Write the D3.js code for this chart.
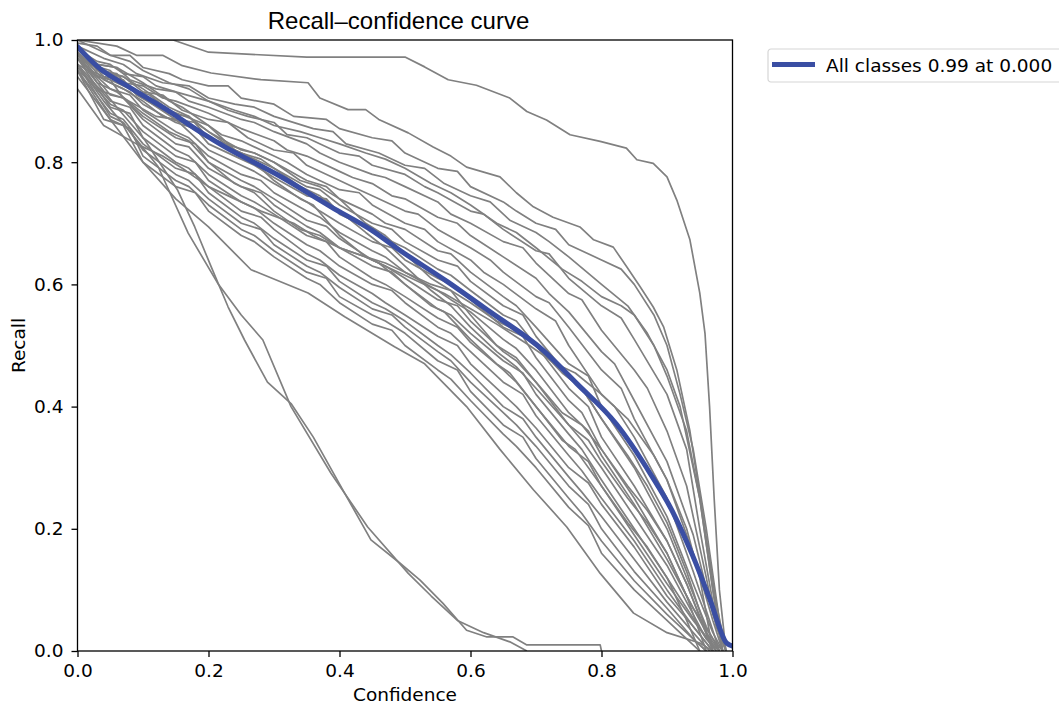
<!DOCTYPE html>
<html>
<head>
<meta charset="utf-8">
<script src="https://cdn.jsdelivr.net/npm/d3@7"></script>
<style>
  html, body { margin: 0; padding: 0; background: #fff; }
  svg { display: block; }
</style>
</head>
<body>
<div id="chart"></div>
<script>
// recall-confidence curve

const xTicks = [0.0, 0.2, 0.4, 0.6, 0.8, 1.0];
const yTicks = [0.0, 0.2, 0.4, 0.6, 0.8, 1.0];
const legendLabel = "All classes 0.99 at 0.000";

// mean curve over all classes
const meanCurve = [
    [0, 0.989], [0.031, 0.956], [0.082, 0.921], [0.133, 0.888], [0.194, 0.845],
    [0.225, 0.825], [0.306, 0.779], [0.387, 0.727], [0.45, 0.688], [0.492, 0.656],
    [0.564, 0.605], [0.63, 0.555], [0.711, 0.492], [0.762, 0.438],
    [0.823, 0.371], [0.874, 0.291], [0.91, 0.225], [0.94, 0.154], [0.966, 0.083],
    [0.991, 0.013], [1.0, 0.008]
];

// per-class curves
const classCurves = [
    [[0,1.0],[0.146,1.0],[0.2,0.98],[0.35,0.972],[0.5,0.972],[0.53,0.956],[0.566,0.935],[0.609,0.926],[0.66,0.905],[0.686,0.883],[0.716,0.869],[0.752,0.845],[0.798,0.834],[0.838,0.823],[0.854,0.804],[0.879,0.798],[0.9,0.776],[0.915,0.738],[0.935,0.673],[0.95,0.586],[0.958,0.52],[0.965,0.40],[0.972,0.25],[0.98,0.10],[0.99,0]],
    [[0,1.0],[0.06,0.99],[0.09,0.975],[0.13,0.975],[0.16,0.958],[0.204,0.946],[0.28,0.935],[0.352,0.93],[0.37,0.905],[0.413,0.886],[0.44,0.886],[0.46,0.87],[0.505,0.848],[0.543,0.825],[0.57,0.81],[0.594,0.792],[0.645,0.776],[0.67,0.75],[0.696,0.727],[0.726,0.71],[0.767,0.694],[0.788,0.673],[0.818,0.661],[0.839,0.628],[0.859,0.596],[0.879,0.563],[0.895,0.53],[0.915,0.46],[0.935,0.36],[0.955,0.22],[0.975,0.08],[0.99,0]],
    [[0,0.995],[0.03,0.99],[0.05,0.975],[0.08,0.975],[0.1,0.955],[0.14,0.945],[0.16,0.935],[0.2,0.925],[0.23,0.925],[0.25,0.905],[0.3,0.895],[0.33,0.875],[0.38,0.87],[0.4,0.855],[0.45,0.84],[0.48,0.835],[0.5,0.815],[0.55,0.79],[0.58,0.785],[0.6,0.76],[0.65,0.735],[0.67,0.72],[0.7,0.70],[0.73,0.69],[0.75,0.665],[0.8,0.64],[0.83,0.625],[0.85,0.60],[0.88,0.55],[0.9,0.50],[0.92,0.42],[0.94,0.33],[0.96,0.2],[0.98,0.05],[0.99,0]],
    [[0,0.99],[0.04,0.97],[0.07,0.96],[0.09,0.945],[0.13,0.93],[0.17,0.925],[0.2,0.905],[0.24,0.895],[0.27,0.89],[0.3,0.875],[0.36,0.855],[0.39,0.85],[0.41,0.83],[0.46,0.815],[0.5,0.795],[0.53,0.79],[0.56,0.765],[0.6,0.745],[0.63,0.735],[0.66,0.705],[0.7,0.685],[0.72,0.67],[0.75,0.645],[0.8,0.60],[0.84,0.565],[0.87,0.52],[0.9,0.46],[0.92,0.40],[0.95,0.25],[0.97,0.1],[0.985,0]],
    [[0,0.985],[0.03,0.965],[0.05,0.96],[0.07,0.945],[0.1,0.94],[0.12,0.925],[0.15,0.915],[0.2,0.90],[0.23,0.885],[0.26,0.875],[0.3,0.865],[0.32,0.845],[0.35,0.84],[0.4,0.815],[0.43,0.81],[0.45,0.795],[0.5,0.78],[0.53,0.76],[0.55,0.75],[0.6,0.72],[0.62,0.715],[0.65,0.69],[0.7,0.655],[0.72,0.65],[0.75,0.61],[0.8,0.565],[0.83,0.545],[0.85,0.51],[0.9,0.42],[0.93,0.33],[0.95,0.2],[0.97,0.08],[0.985,0]],
    [[0,0.99],[0.03,0.96],[0.06,0.955],[0.08,0.935],[0.12,0.92],[0.15,0.915],[0.17,0.9],[0.2,0.89],[0.25,0.87],[0.27,0.865],[0.3,0.85],[0.35,0.83],[0.37,0.815],[0.4,0.80],[0.45,0.78],[0.47,0.775],[0.5,0.76],[0.55,0.735],[0.57,0.715],[0.6,0.70],[0.65,0.67],[0.68,0.66],[0.7,0.635],[0.75,0.585],[0.77,0.575],[0.8,0.525],[0.85,0.46],[0.87,0.43],[0.9,0.36],[0.93,0.27],[0.96,0.12],[0.975,0.04],[0.99,0]],
    [[0,0.98],[0.02,0.96],[0.05,0.95],[0.07,0.93],[0.1,0.925],[0.13,0.905],[0.15,0.90],[0.2,0.88],[0.22,0.87],[0.25,0.855],[0.3,0.835],[0.32,0.82],[0.35,0.81],[0.4,0.785],[0.42,0.775],[0.45,0.765],[0.48,0.745],[0.5,0.74],[0.55,0.71],[0.58,0.70],[0.6,0.68],[0.65,0.645],[0.7,0.61],[0.72,0.585],[0.75,0.555],[0.8,0.49],[0.82,0.47],[0.85,0.41],[0.9,0.31],[0.94,0.19],[0.97,0.06],[0.99,0]],
    [[0,0.975],[0.04,0.945],[0.07,0.94],[0.1,0.915],[0.13,0.91],[0.16,0.885],[0.2,0.87],[0.23,0.865],[0.26,0.84],[0.3,0.82],[0.33,0.815],[0.35,0.795],[0.4,0.77],[0.43,0.755],[0.45,0.745],[0.5,0.72],[0.52,0.715],[0.55,0.69],[0.6,0.66],[0.63,0.64],[0.65,0.62],[0.7,0.58],[0.72,0.57],[0.75,0.53],[0.8,0.46],[0.83,0.43],[0.85,0.38],[0.9,0.28],[0.94,0.16],[0.97,0.05],[0.985,0]],
    [[0,0.99],[0.03,0.95],[0.06,0.945],[0.08,0.92],[0.11,0.91],[0.14,0.885],[0.2,0.86],[0.22,0.845],[0.25,0.835],[0.3,0.81],[0.32,0.80],[0.35,0.78],[0.4,0.755],[0.43,0.75],[0.45,0.73],[0.5,0.70],[0.53,0.69],[0.55,0.67],[0.6,0.64],[0.62,0.62],[0.65,0.60],[0.7,0.56],[0.73,0.54],[0.75,0.50],[0.8,0.42],[0.82,0.40],[0.85,0.35],[0.9,0.25],[0.94,0.13],[0.965,0.05],[0.98,0]],
    [[0,0.97],[0.02,0.95],[0.05,0.935],[0.08,0.92],[0.1,0.905],[0.15,0.87],[0.18,0.865],[0.2,0.85],[0.25,0.82],[0.27,0.815],[0.3,0.80],[0.35,0.77],[0.38,0.76],[0.4,0.74],[0.45,0.715],[0.47,0.70],[0.5,0.69],[0.55,0.655],[0.57,0.65],[0.6,0.62],[0.65,0.58],[0.67,0.565],[0.7,0.53],[0.75,0.47],[0.78,0.45],[0.8,0.40],[0.85,0.32],[0.9,0.22],[0.94,0.11],[0.97,0.03],[0.985,0]],
    [[0,0.985],[0.04,0.94],[0.07,0.935],[0.09,0.91],[0.14,0.88],[0.17,0.875],[0.2,0.84],[0.25,0.815],[0.28,0.805],[0.3,0.79],[0.35,0.76],[0.37,0.755],[0.4,0.73],[0.45,0.70],[0.48,0.69],[0.5,0.67],[0.55,0.64],[0.58,0.63],[0.6,0.605],[0.65,0.565],[0.68,0.55],[0.7,0.515],[0.75,0.45],[0.77,0.43],[0.8,0.38],[0.85,0.30],[0.9,0.20],[0.93,0.12],[0.96,0.04],[0.98,0]],
    [[0,0.96],[0.05,0.93],[0.08,0.915],[0.1,0.895],[0.15,0.865],[0.18,0.855],[0.2,0.83],[0.25,0.805],[0.27,0.795],[0.3,0.775],[0.35,0.745],[0.38,0.74],[0.4,0.715],[0.45,0.69],[0.47,0.675],[0.5,0.66],[0.55,0.625],[0.57,0.615],[0.6,0.59],[0.65,0.55],[0.67,0.54],[0.7,0.50],[0.75,0.43],[0.78,0.40],[0.8,0.35],[0.85,0.27],[0.9,0.18],[0.93,0.11],[0.96,0.03],[0.975,0]],
    [[0,0.98],[0.03,0.94],[0.05,0.935],[0.07,0.905],[0.12,0.875],[0.15,0.87],[0.2,0.82],[0.25,0.795],[0.27,0.785],[0.3,0.765],[0.35,0.735],[0.37,0.72],[0.4,0.70],[0.45,0.67],[0.48,0.66],[0.5,0.64],[0.55,0.61],[0.58,0.595],[0.6,0.575],[0.65,0.53],[0.68,0.515],[0.7,0.48],[0.75,0.41],[0.77,0.39],[0.8,0.33],[0.85,0.25],[0.9,0.16],[0.93,0.09],[0.96,0.03],[0.98,0]],
    [[0,0.97],[0.05,0.92],[0.08,0.91],[0.1,0.885],[0.15,0.85],[0.17,0.84],[0.2,0.81],[0.25,0.78],[0.28,0.77],[0.3,0.75],[0.35,0.72],[0.37,0.71],[0.4,0.685],[0.45,0.655],[0.47,0.645],[0.5,0.62],[0.55,0.59],[0.57,0.575],[0.6,0.555],[0.65,0.51],[0.67,0.495],[0.7,0.46],[0.75,0.39],[0.78,0.36],[0.8,0.32],[0.85,0.24],[0.9,0.15],[0.94,0.07],[0.97,0.02],[0.985,0]],
    [[0,0.95],[0.04,0.915],[0.07,0.905],[0.1,0.875],[0.15,0.84],[0.18,0.83],[0.2,0.80],[0.25,0.77],[0.27,0.76],[0.3,0.74],[0.35,0.705],[0.38,0.695],[0.4,0.675],[0.45,0.64],[0.47,0.63],[0.5,0.61],[0.55,0.575],[0.58,0.565],[0.6,0.54],[0.65,0.49],[0.67,0.475],[0.7,0.44],[0.75,0.37],[0.77,0.345],[0.8,0.30],[0.85,0.22],[0.9,0.14],[0.93,0.08],[0.96,0.02],[0.975,0]],
    [[0,0.975],[0.05,0.91],[0.07,0.905],[0.1,0.87],[0.15,0.83],[0.17,0.825],[0.2,0.79],[0.25,0.76],[0.28,0.75],[0.3,0.73],[0.35,0.695],[0.37,0.685],[0.4,0.66],[0.45,0.63],[0.48,0.62],[0.5,0.60],[0.55,0.56],[0.57,0.55],[0.6,0.52],[0.65,0.475],[0.68,0.455],[0.7,0.42],[0.75,0.355],[0.77,0.33],[0.8,0.28],[0.85,0.20],[0.9,0.12],[0.93,0.07],[0.96,0.02],[0.98,0]],
    [[0,0.96],[0.05,0.90],[0.08,0.89],[0.1,0.86],[0.15,0.82],[0.17,0.81],[0.2,0.78],[0.25,0.745],[0.27,0.735],[0.3,0.715],[0.35,0.68],[0.38,0.67],[0.4,0.645],[0.45,0.61],[0.47,0.60],[0.5,0.58],[0.55,0.545],[0.58,0.53],[0.6,0.505],[0.65,0.46],[0.67,0.44],[0.7,0.40],[0.75,0.335],[0.78,0.31],[0.8,0.27],[0.85,0.19],[0.9,0.11],[0.94,0.05],[0.97,0.01],[0.98,0]],
    [[0,0.955],[0.05,0.895],[0.07,0.885],[0.1,0.85],[0.15,0.81],[0.18,0.80],[0.2,0.77],[0.25,0.735],[0.27,0.725],[0.3,0.70],[0.35,0.665],[0.37,0.655],[0.4,0.63],[0.45,0.60],[0.48,0.59],[0.5,0.57],[0.55,0.53],[0.57,0.52],[0.6,0.49],[0.65,0.44],[0.68,0.42],[0.7,0.385],[0.75,0.32],[0.77,0.295],[0.8,0.25],[0.85,0.18],[0.9,0.10],[0.94,0.04],[0.97,0]],
    [[0,0.97],[0.05,0.89],[0.08,0.88],[0.1,0.84],[0.15,0.80],[0.17,0.79],[0.2,0.76],[0.25,0.72],[0.28,0.71],[0.3,0.69],[0.35,0.65],[0.37,0.64],[0.4,0.615],[0.45,0.585],[0.47,0.57],[0.5,0.55],[0.55,0.515],[0.58,0.50],[0.6,0.47],[0.65,0.42],[0.67,0.40],[0.7,0.365],[0.75,0.30],[0.78,0.275],[0.8,0.24],[0.85,0.17],[0.9,0.09],[0.94,0.04],[0.97,0]],
    [[0,0.95],[0.05,0.88],[0.07,0.87],[0.1,0.83],[0.15,0.79],[0.18,0.78],[0.2,0.75],[0.25,0.71],[0.27,0.70],[0.3,0.675],[0.35,0.64],[0.38,0.63],[0.4,0.605],[0.45,0.57],[0.47,0.56],[0.5,0.54],[0.55,0.50],[0.57,0.485],[0.6,0.455],[0.65,0.40],[0.68,0.38],[0.7,0.35],[0.75,0.285],[0.77,0.26],[0.8,0.22],[0.85,0.15],[0.9,0.08],[0.94,0.03],[0.965,0]],
    [[0,0.96],[0.05,0.875],[0.07,0.865],[0.1,0.82],[0.15,0.78],[0.17,0.77],[0.2,0.74],[0.25,0.70],[0.28,0.69],[0.3,0.665],[0.35,0.63],[0.37,0.62],[0.4,0.595],[0.45,0.56],[0.48,0.55],[0.5,0.53],[0.55,0.49],[0.57,0.475],[0.6,0.44],[0.65,0.39],[0.67,0.37],[0.7,0.335],[0.75,0.27],[0.78,0.24],[0.8,0.20],[0.85,0.13],[0.9,0.07],[0.94,0.02],[0.96,0]],
    [[0,0.94],[0.05,0.87],[0.08,0.855],[0.1,0.81],[0.15,0.77],[0.17,0.76],[0.2,0.73],[0.25,0.69],[0.27,0.68],[0.3,0.655],[0.35,0.62],[0.38,0.61],[0.4,0.58],[0.45,0.55],[0.47,0.54],[0.5,0.52],[0.55,0.475],[0.58,0.46],[0.6,0.425],[0.65,0.37],[0.68,0.35],[0.7,0.315],[0.75,0.25],[0.77,0.225],[0.8,0.18],[0.85,0.115],[0.9,0.06],[0.94,0.02],[0.96,0]],
    [[0,0.95],[0.04,0.87],[0.07,0.86],[0.1,0.80],[0.15,0.76],[0.18,0.75],[0.2,0.72],[0.25,0.68],[0.27,0.67],[0.3,0.645],[0.35,0.61],[0.37,0.60],[0.4,0.57],[0.45,0.535],[0.48,0.525],[0.5,0.50],[0.55,0.46],[0.57,0.445],[0.6,0.41],[0.65,0.355],[0.67,0.335],[0.7,0.30],[0.75,0.235],[0.78,0.205],[0.8,0.16],[0.85,0.10],[0.9,0.05],[0.93,0.02],[0.95,0]],
    [[0,0.92],[0.04,0.86],[0.09,0.83],[0.13,0.81],[0.16,0.79],[0.2,0.76],[0.24,0.74],[0.28,0.72],[0.33,0.70],[0.36,0.68],[0.4,0.66],[0.44,0.645],[0.49,0.62],[0.53,0.60],[0.56,0.585],[0.6,0.56],[0.64,0.535],[0.69,0.50],[0.73,0.47],[0.76,0.455],[0.8,0.42],[0.84,0.38],[0.88,0.32],[0.9,0.28],[0.93,0.2],[0.95,0.12],[0.97,0]],
    [[0,0.99],[0.03,0.96],[0.06,0.955],[0.1,0.93],[0.14,0.90],[0.16,0.89],[0.2,0.86],[0.24,0.82],[0.26,0.81],[0.3,0.77],[0.34,0.74],[0.36,0.73],[0.4,0.68],[0.44,0.645],[0.46,0.635],[0.5,0.60],[0.54,0.565],[0.56,0.555],[0.6,0.51],[0.64,0.47],[0.66,0.455],[0.7,0.40],[0.74,0.345],[0.76,0.33],[0.8,0.27],[0.84,0.21],[0.87,0.17],[0.9,0.12],[0.93,0.05],[0.95,0]],
    [[0,0.98],[0.04,0.935],[0.07,0.92],[0.1,0.90],[0.13,0.875],[0.16,0.865],[0.2,0.84],[0.24,0.825],[0.27,0.815],[0.3,0.80],[0.34,0.77],[0.37,0.76],[0.4,0.74],[0.44,0.70],[0.47,0.68],[0.5,0.65],[0.54,0.61],[0.57,0.59],[0.6,0.55],[0.64,0.50],[0.67,0.48],[0.7,0.44],[0.74,0.39],[0.77,0.37],[0.8,0.33],[0.84,0.27],[0.87,0.23],[0.9,0.18],[0.93,0.11],[0.97,0]],
    [[0,0.97],[0.03,0.93],[0.06,0.915],[0.1,0.88],[0.14,0.85],[0.17,0.835],[0.2,0.80],[0.24,0.765],[0.27,0.75],[0.3,0.72],[0.34,0.69],[0.37,0.68],[0.4,0.66],[0.44,0.645],[0.47,0.635],[0.5,0.62],[0.54,0.60],[0.57,0.59],[0.6,0.57],[0.64,0.54],[0.67,0.525],[0.7,0.50],[0.74,0.455],[0.77,0.43],[0.8,0.38],[0.84,0.32],[0.87,0.27],[0.9,0.21],[0.93,0.13],[0.97,0]],
    [[0,0.99],[0.04,0.95],[0.07,0.94],[0.1,0.92],[0.14,0.89],[0.17,0.875],[0.2,0.85],[0.24,0.82],[0.27,0.805],[0.3,0.79],[0.34,0.76],[0.37,0.745],[0.4,0.72],[0.44,0.685],[0.47,0.66],[0.5,0.63],[0.54,0.59],[0.57,0.565],[0.6,0.53],[0.64,0.49],[0.67,0.465],[0.7,0.43],[0.75,0.37],[0.78,0.345],[0.8,0.31],[0.84,0.25],[0.87,0.21],[0.9,0.16],[0.93,0.09],[0.96,0]],
    [[0,1.0],[0.05,0.975],[0.08,0.965],[0.1,0.95],[0.14,0.93],[0.17,0.92],[0.2,0.90],[0.24,0.885],[0.27,0.875],[0.3,0.86],[0.34,0.85],[0.37,0.84],[0.4,0.83],[0.44,0.815],[0.47,0.805],[0.5,0.79],[0.54,0.765],[0.57,0.75],[0.6,0.73],[0.64,0.70],[0.67,0.685],[0.7,0.66],[0.74,0.625],[0.77,0.605],[0.8,0.58],[0.83,0.565],[0.85,0.55],[0.88,0.50],[0.9,0.45],[0.93,0.36],[0.95,0.25],[0.97,0.1],[0.985,0]],
    [[0,0.95],[0.05,0.87],[0.1,0.80],[0.15,0.74],[0.2,0.694],[0.265,0.624],[0.352,0.586],[0.408,0.547],[0.484,0.498],[0.53,0.47],[0.594,0.40],[0.645,0.33],[0.696,0.264],[0.747,0.203],[0.798,0.127],[0.849,0.062],[0.9,0.03],[0.95,0.013],[0.97,0]],
    [[0,0.98],[0.03,0.93],[0.06,0.89],[0.103,0.836],[0.153,0.754],[0.179,0.694],[0.204,0.629],[0.23,0.563],[0.255,0.509],[0.29,0.44],[0.326,0.405],[0.36,0.35],[0.408,0.258],[0.448,0.182],[0.492,0.144],[0.523,0.116],[0.558,0.078],[0.594,0.034],[0.625,0.023],[0.665,0.023],[0.686,0.01],[0.798,0.01],[0.8,0]],
    [[0,0.96],[0.04,0.90],[0.08,0.85],[0.123,0.793],[0.169,0.684],[0.214,0.602],[0.25,0.55],[0.283,0.509],[0.326,0.40],[0.387,0.291],[0.443,0.203],[0.505,0.127],[0.54,0.09],[0.58,0.05],[0.62,0.03],[0.66,0.015],[0.686,0]]
];

const width = 1059;
const height = 704;
const margin = { left: 77.5, right: 326.5, top: 40, bottom: 53 };
const fontSize = "18.5px";

const svg = d3.select("#chart").append("svg")
    .attr("width", width)
    .attr("height", height)
    .style("font-family", "'DejaVu Sans', sans-serif");

const x = d3.scaleLinear().domain([0, 1]).range([margin.left, width - margin.right]);
const y = d3.scaleLinear().domain([0, 1]).range([height - margin.bottom, margin.top]);

svg.append("defs").append("clipPath")
    .attr("id", "plot-clip")
    .append("rect")
    .attr("x", x(0))
    .attr("y", y(1))
    .attr("width", x(1) - x(0))
    .attr("height", y(0) - y(1));

const line = d3.line()
    .x(d => x(d[0]))
    .y(d => y(d[1]));

const plot = svg.append("g").attr("clip-path", "url(#plot-clip)");

plot.selectAll(".class-curve")
    .data(classCurves)
    .join("path")
    .attr("class", "class-curve")
    .attr("d", line)
    .attr("fill", "none")
    .attr("stroke", "#808080")
    .attr("stroke-width", 1.7)
    .attr("stroke-linejoin", "round");

plot.append("path")
    .datum(meanCurve)
    .attr("d", line.curve(d3.curveMonotoneX))
    .attr("fill", "none")
    .attr("stroke", "#3a4ea3")
    .attr("stroke-width", 5)
    .attr("stroke-linecap", "round");

// axes
const xAxis = svg.append("g")
    .attr("transform", `translate(0,${y(0)})`)
    .call(d3.axisBottom(x).tickValues(xTicks).tickFormat(d3.format(".1f")).tickSize(6).tickPadding(7));
const yAxis = svg.append("g")
    .attr("transform", `translate(${x(0)},0)`)
    .call(d3.axisLeft(y).tickValues(yTicks).tickFormat(d3.format(".1f")).tickSize(6).tickPadding(8));

[xAxis, yAxis].forEach(a => {
    a.select(".domain").remove();
    a.selectAll(".tick line").attr("stroke", "#000").attr("stroke-width", 1.3);
    a.selectAll(".tick text")
        .attr("fill", "#000")
        .style("font-family", "'DejaVu Sans', sans-serif")
        .style("font-size", fontSize);
});

// frame
svg.append("rect")
    .attr("x", x(0))
    .attr("y", y(1))
    .attr("width", x(1) - x(0))
    .attr("height", y(0) - y(1))
    .attr("fill", "none")
    .attr("stroke", "#000")
    .attr("stroke-width", 1.3);

// labels
svg.append("text")
    .attr("x", 398.5)
    .attr("y", 29)
    .attr("text-anchor", "middle")
    .style("font-family", "'Liberation Sans', Arial, sans-serif")
    .style("font-size", "24px")
    .text("Recall\u2013confidence curve");

svg.append("text")
    .attr("x", (x(0) + x(1)) / 2)
    .attr("y", 701)
    .attr("text-anchor", "middle")
    .style("font-size", fontSize)
    .text("Confidence");

svg.append("text")
    .attr("transform", `translate(25,${(y(0) + y(1)) / 2}) rotate(-90)`)
    .attr("text-anchor", "middle")
    .style("font-size", fontSize)
    .text("Recall");

// legend
const legend = svg.append("g").attr("transform", "translate(768,49)");
legend.append("rect")
    .attr("width", 310)
    .attr("height", 33)
    .attr("rx", 3)
    .attr("fill", "#fff")
    .attr("stroke", "#d6d6d6")
    .attr("stroke-width", 1.2);
legend.append("line")
    .attr("x1", 4).attr("x2", 47)
    .attr("y1", 15.5).attr("y2", 15.5)
    .attr("stroke", "#3a4ea3")
    .attr("stroke-width", 5);
legend.append("text")
    .attr("x", 58)
    .attr("y", 22.5)
    .style("font-size", fontSize)
    .text(legendLabel);
</script>
</body>
</html>
